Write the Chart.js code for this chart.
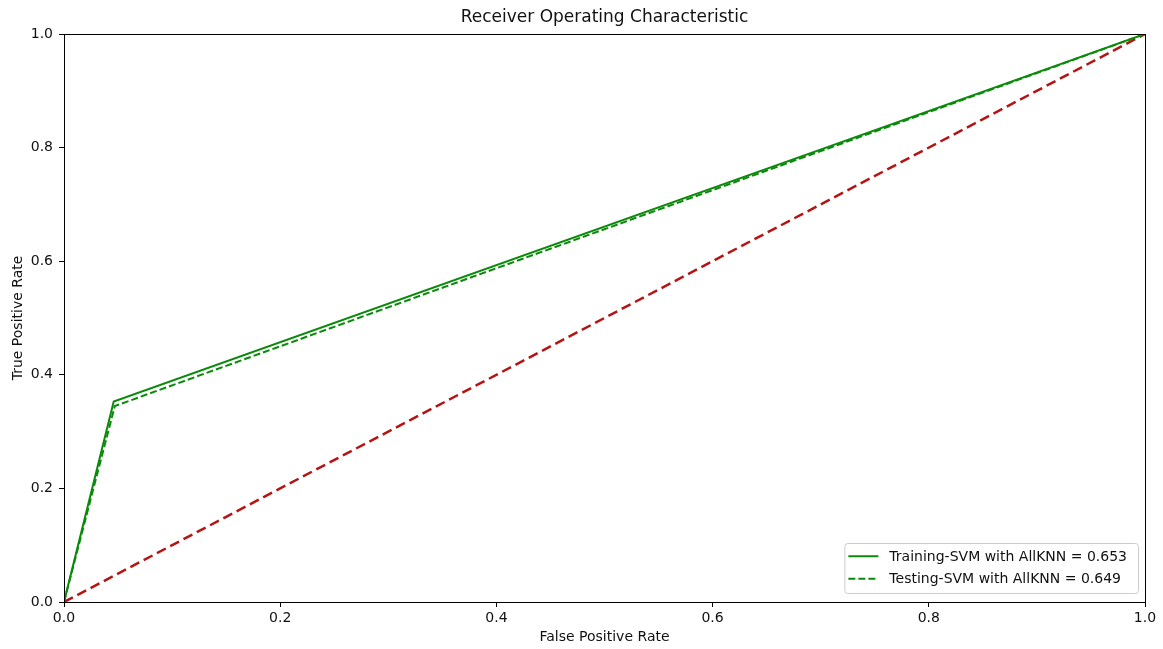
<!DOCTYPE html>
<html>
<head>
<meta charset="utf-8">
<title>Receiver Operating Characteristic</title>
<script src="https://cdn.jsdelivr.net/npm/chart.js@4.4.1/dist/chart.umd.min.js"></script>
<style>
  html, body { margin: 0; padding: 0; background: #ffffff; }
  #wrap { width: 1163px; height: 649px; }
</style>
</head>
<body>
<div id="wrap"><canvas id="roc" width="1163" height="649"></canvas></div>
<script>
// ROC curve points (false positive rate / true positive rate)
const trainFpr = [0, 0.046, 1];
const trainTpr = [0, 0.353, 1];
const testFpr = [0, 0.047, 1];
const testTpr = [0, 0.345, 1];
const chanceFpr = [0, 1];
const chanceTpr = [0, 1];

const chartTitle = 'Receiver Operating Characteristic';
const seriesLabels = ['Training-SVM with AllKNN = 0.653', 'Testing-SVM with AllKNN = 0.649'];
const axisTicks = [0, 0.2, 0.4, 0.6, 0.8, 1.0];

const FONT = "'DejaVu Sans', sans-serif";
const GREEN = '#0a8a0a';
const RED = '#b41414';

const toPoints = (xs, ys) => xs.map((x, i) => ({ x: x, y: ys[i] }));

// frame around the plot area plus a title centred over the axes
const framePlugin = {
  id: 'frame',
  afterDatasetsDraw(chart) {
    const { ctx, chartArea: a } = chart;
    ctx.save();
    ctx.strokeStyle = '#000000';
    ctx.lineWidth = 1;
    ctx.strokeRect(Math.round(a.left) + 0.5, Math.round(a.top) + 0.5,
                   Math.round(a.right - a.left), Math.round(a.bottom - a.top));
    ctx.font = '17px ' + FONT;
    ctx.fillStyle = '#111111';
    ctx.textAlign = 'center';
    ctx.textBaseline = 'middle';
    ctx.fillText(chartTitle, (a.left + a.right) / 2, a.top - 16);
    ctx.restore();
  }
};

// legend box drawn inside the lower right corner of the plot
const innerLegend = {
  id: 'innerLegend',
  afterDraw(chart) {
    const { ctx, chartArea: a } = chart;
    const items = chart.data.datasets.filter(d => d.label);
    ctx.save();
    ctx.font = '14px ' + FONT;
    const textW = Math.max(...items.map(d => ctx.measureText(d.label).width));
    const w = 4 + 30 + 11 + textW + 11;
    const rowH = 22.5;
    const h = items.length * rowH + 5;
    const x = a.right - 7 - w;
    const y = a.bottom - 9 - h;
    ctx.fillStyle = 'rgba(255,255,255,0.85)';
    ctx.strokeStyle = '#cccccc';
    ctx.lineWidth = 1;
    ctx.beginPath();
    ctx.roundRect(x + 0.5, y + 0.5, w, h, 3);
    ctx.fill();
    ctx.stroke();
    items.forEach((d, i) => {
      const cy = y + 2 + rowH * i + rowH / 2;
      ctx.strokeStyle = d.borderColor;
      ctx.lineWidth = d.borderWidth;
      ctx.setLineDash(d.borderDash || []);
      ctx.beginPath();
      ctx.moveTo(x + 4, cy);
      ctx.lineTo(x + 34, cy);
      ctx.stroke();
      ctx.setLineDash([]);
      ctx.fillStyle = '#111111';
      ctx.textBaseline = 'middle';
      ctx.textAlign = 'left';
      ctx.fillText(d.label, x + 45, cy + 1);
    });
    ctx.restore();
  }
};

new Chart(document.getElementById('roc'), {
  type: 'scatter',
  data: {
    datasets: [
      {
        label: seriesLabels[0],
        data: toPoints(trainFpr, trainTpr),
        showLine: true,
        borderColor: GREEN,
        borderWidth: 2,
        pointRadius: 0,
        tension: 0
      },
      {
        label: seriesLabels[1],
        data: toPoints(testFpr, testTpr),
        showLine: true,
        borderColor: GREEN,
        borderWidth: 2,
        borderDash: [7, 3],
        pointRadius: 0,
        tension: 0
      },
      {
        label: '',
        data: toPoints(chanceFpr, chanceTpr),
        showLine: true,
        borderColor: RED,
        borderWidth: 2.5,
        borderDash: [10, 5],
        pointRadius: 0,
        tension: 0
      }
    ]
  },
  options: {
    responsive: false,
    animation: false,
    events: [],
    layout: { padding: { top: 34, right: 18, bottom: 0, left: 0 } },
    plugins: {
      legend: { display: false },
      tooltip: { enabled: false },
      title: { display: false }
    },
    scales: {
      x: {
        type: 'linear',
        min: 0,
        max: 1,
        afterFit(s) { s.height = 47; },
        afterBuildTicks(s) { s.ticks = axisTicks.map(v => ({ value: v })); },
        grid: { drawOnChartArea: false, drawTicks: true, tickLength: 5, color: '#000000' },
        border: { display: true, color: '#000000' },
        ticks: {
          color: '#111111',
          font: { family: FONT, size: 14 },
          padding: 3,
          maxRotation: 0,
          callback: v => v.toFixed(1)
        },
        title: {
          display: true,
          text: 'False Positive Rate',
          color: '#111111',
          font: { family: FONT, size: 14 },
          padding: { top: 0, bottom: 3.6 }
        }
      },
      y: {
        type: 'linear',
        min: 0,
        max: 1,
        afterFit(s) { s.width = 64; },
        afterBuildTicks(s) { s.ticks = axisTicks.map(v => ({ value: v })); },
        grid: { drawOnChartArea: false, drawTicks: true, tickLength: 5, color: '#000000' },
        border: { display: true, color: '#000000' },
        ticks: {
          color: '#111111',
          font: { family: FONT, size: 14 },
          padding: 6,
          callback: v => v.toFixed(1)
        },
        title: {
          display: true,
          text: 'True Positive Rate',
          color: '#111111',
          font: { family: FONT, size: 14 },
          padding: { top: 9.6, bottom: 0 }
        }
      }
    }
  },
  plugins: [framePlugin, innerLegend]
});
</script>
</body>
</html>
